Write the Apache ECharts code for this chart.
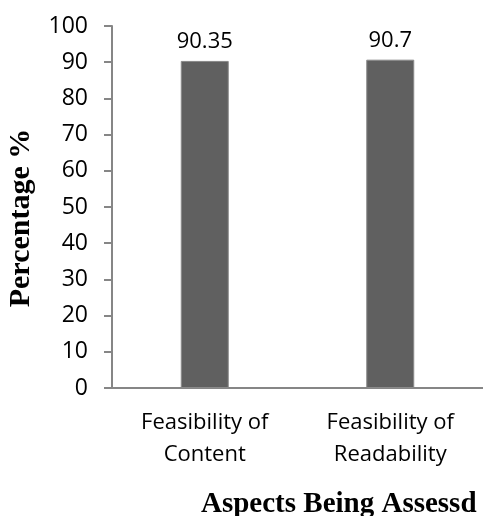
<!DOCTYPE html>
<html>
<head>
<meta charset="utf-8">
<script src="https://cdn.jsdelivr.net/npm/echarts@6/dist/echarts.min.js"></script>
<style>html,body{margin:0;padding:0;background:#fff}#c{width:483px;height:516px}</style>
</head>
<body>
<div id="c"></div>
<script>
const categories = ['Feasibility of\nContent', 'Feasibility of\nReadability'];
const values = [90.35, 90.7];
const valueLabels = ['90.35', '90.7'];
const yTitle = 'Percentage %';
const xTitle = 'Aspects Being Assessd';

const chart = echarts.init(document.getElementById('c'));
chart.setOption({
  animation: false,
  title: {
    text: xTitle,
    left: 201, top: 490,
    padding: 0,
    textStyle: { fontFamily: 'Liberation Serif', fontWeight: 'bold', fontSize: 29, color: '#000' }
  },
  grid: { left: 112, right: 0, top: 26, bottom: 128, containLabel: false, outerBoundsMode: 'none' },
  xAxis: {
    type: 'category',
    data: categories,
    axisLine: { lineStyle: { color: '#868686', width: 2 } },
    axisTick: { show: false },
    axisLabel: { color: '#000', fontFamily: 'Open Sans', fontSize: 22, lineHeight: 32, margin: 19, interval: 0 }
  },
  yAxis: {
    type: 'value',
    min: 0, max: 100, interval: 10,
    name: yTitle,
    nameLocation: 'middle',
    nameRotate: 90,
    nameGap: 76,
    nameTextStyle: { fontFamily: 'Liberation Serif', fontWeight: 'bold', fontSize: 30, color: '#000', padding: [0, 22, 0, 0] },
    axisLine: { show: true, lineStyle: { color: '#868686', width: 2 } },
    axisTick: { show: true, length: 8, lineStyle: { color: '#868686', width: 2 } },
    splitLine: { show: false },
    axisLabel: { color: '#000', fontFamily: 'Open Sans', fontSize: 23, margin: 24 }
  },
  series: [{
    type: 'bar',
    data: values,
    barWidth: 48,
    itemStyle: { color: '#606060', borderColor: '#8a8a8a', borderWidth: 1 },
    label: {
      show: true, position: 'top', distance: 8,
      formatter: p => valueLabels[p.dataIndex],
      color: '#000', fontFamily: 'Open Sans', fontSize: 22
    }
  }]
});
</script>
</body>
</html>
